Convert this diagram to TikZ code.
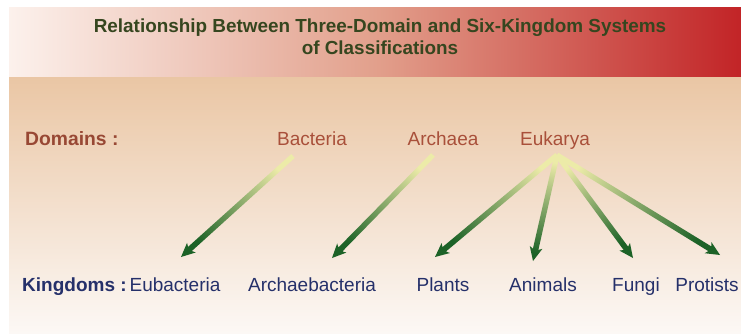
\documentclass[tikz,border=0pt]{standalone}
\usepackage{fontspec}
\setmainfont{Liberation Sans}
\usepackage{xcolor}
\usepackage{tikz}
\usetikzlibrary{arrows.meta, positioning, calc}
\definecolor{titlegreen}{HTML}{36461F}
\definecolor{domred}{HTML}{A9503A}
\definecolor{kingblue}{HTML}{25306A}
\definecolor{bandred}{HTML}{C22427}
\definecolor{bandmid}{HTML}{E2A08C}
\definecolor{bandpale}{HTML}{FCF1EC}
\definecolor{tanbg}{HTML}{EAC6A4}
\definecolor{palebg}{HTML}{FCF8F5}
\definecolor{arrlight}{HTML}{ECEBA8}
\definecolor{arrdark}{HTML}{1C6227}
\tikzset{
  titletext/.style={text=titlegreen,font=\fontsize{18.9}{22}\selectfont\bfseries,align=center},
  domhead/.style={anchor=base west,text=domred!90!black,font=\fontsize{19.3}{20}\selectfont\bfseries,inner sep=0pt},
  domlabel/.style={anchor=base,text=domred,font=\fontsize{19}{20}\selectfont,inner sep=0pt},
  kinghead/.style={anchor=base west,text=kingblue,font=\fontsize{19}{20}\selectfont\bfseries,inner sep=0pt},
  kinglabel/.style={anchor=base,text=kingblue,font=\fontsize{19}{20}\selectfont,inner sep=0pt}
}
% shaded arrow from #1 to #2
\newcommand{\shadearrow}[2]{%
  \path let \p1=($(#2)-(#1)$) in
    \pgfextra{\pgfmathsetmacro{\shang}{atan2(\y1,\x1)-90}\xdef\shang{\shang}};
  \shade[bottom color=arrlight,top color=arrdark,shading angle=\shang]
    ($(#1)!2.6pt!90:(#2)$) -- ($(#2)!12pt!(#1)!2.8pt!-90:(#1)$)
    -- ($(#2)!14pt!(#1)!6.5pt!-90:(#1)$) -- (#2)
    -- ($(#2)!14pt!(#1)!6.5pt!90:(#1)$) -- ($(#2)!12pt!(#1)!2.8pt!90:(#1)$)
    -- ($(#1)!2.6pt!-90:(#2)$) -- cycle;
}

\begin{document}
\begin{tikzpicture}[x=1pt,y=-1pt]
  \useasboundingbox (0,0) rectangle (741,333);
  % background
  \shade[top color=tanbg,bottom color=palebg] (9,76) rectangle (741,333);
  \shade[left color=bandpale,right color=bandred,middle color=bandmid] (9,7) rectangle (741,76);

  \node[titletext] (title) at (380,37)
    {Relationship Between Three-Domain and Six-Kingdom Systems\\of Classifications};

  % domains
  \node[domhead] (domains) at (25,145) {Domains :};
  \node[domlabel] (bac) at (312,145) {Bacteria};
  \node[domlabel] (arc) at (443,145) {Archaea};
  \node[domlabel] (euk) at (555,145) {Eukarya};

  % kingdoms
  \node[kinghead] (kingdoms) at (22,291) {Kingdoms :};
  \node[kinglabel] (eub) at (175,291) {Eubacteria};
  \node[kinglabel] (arb) at (312,291) {Archaebacteria};
  \node[kinglabel] (pla) at (443,291) {Plants};
  \node[kinglabel] (ani) at (543,291) {Animals};
  \node[kinglabel] (fun) at (636,291) {Fungi};
  \node[kinglabel] (pro) at (707,291) {Protists};

  \coordinate (bacS) at ($(bac.base)+(-19,11)$);
  \coordinate (arcS) at ($(arc.base)+(-10,10)$);
  \coordinate (eukS) at ($(euk.base)+(2,10)$);
  \coordinate (eubT) at ($(eub.base)+(6,-34)$);
  \coordinate (arbT) at ($(arb.base)+(20,-33)$);
  \coordinate (plaT) at ($(pla.base)+(-8,-34)$);
  \coordinate (aniT) at ($(ani.base)+(-10,-30)$);
  \coordinate (funT) at ($(fun.base)+(-3,-33)$);
  \coordinate (proT) at ($(pro.base)+(13,-36)$);

  \shadearrow{bacS}{eubT}
  \shadearrow{arcS}{arbT}
  \shadearrow{eukS}{plaT}
  \shadearrow{eukS}{aniT}
  \shadearrow{eukS}{funT}
  \shadearrow{eukS}{proT}
\end{tikzpicture}
\end{document}
